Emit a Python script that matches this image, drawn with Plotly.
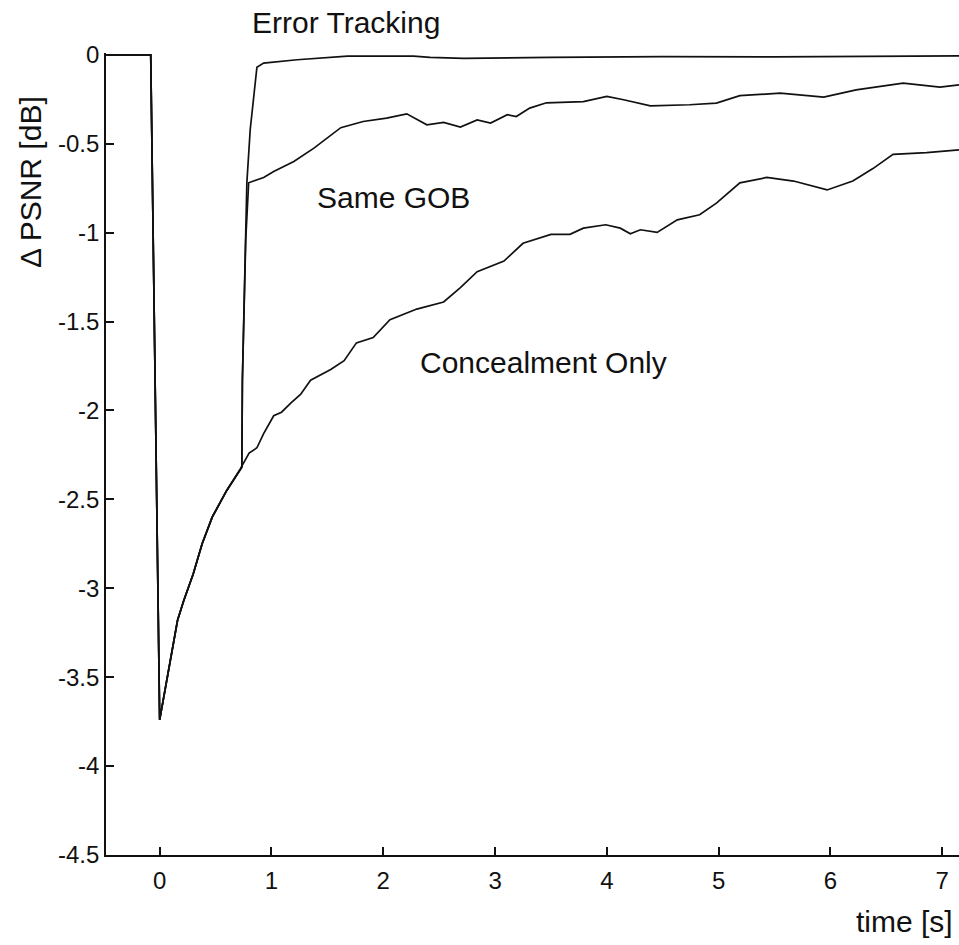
import plotly.graph_objects as go

# Shared start (all three curves coincide before the feedback arrives)
common_t = [-0.48, -0.08, 0.0, 0.08, 0.16, 0.215, 0.30, 0.38, 0.47, 0.60, 0.72]
common_v = [0.0, 0.0, -3.74, -3.46, -3.18, -3.07, -2.92, -2.75, -2.60, -2.45, -2.33]

conceal_t = [0.80, 0.87, 0.93, 1.02, 1.09, 1.17, 1.26, 1.35, 1.53, 1.65, 1.76, 1.91,
             2.06, 2.30, 2.54, 2.69, 2.84, 3.08, 3.25, 3.40, 3.50, 3.67, 3.79, 3.99,
             4.12, 4.21, 4.30, 4.45, 4.63, 4.83, 4.98, 5.19, 5.43, 5.67, 5.97, 6.20,
             6.38, 6.56, 6.86, 7.15]
conceal_v = [-2.24, -2.21, -2.13, -2.03, -2.01, -1.96, -1.91, -1.83, -1.77, -1.72, -1.62, -1.59,
             -1.49, -1.43, -1.39, -1.31, -1.22, -1.16, -1.06, -1.03, -1.01, -1.01, -0.975, -0.956,
             -0.975, -1.007, -0.984, -0.999, -0.928, -0.90, -0.834, -0.72, -0.69, -0.71, -0.76, -0.71,
             -0.64, -0.56, -0.55, -0.535]

track_t = [0.735, 0.74, 0.77, 0.78, 0.81, 0.87, 0.93, 1.23, 1.68, 1.97, 2.27, 2.42, 2.72,
           3.49, 4.5, 5.5, 6.5, 7.15]
track_v = [-2.32, -1.83, -1.04, -0.72, -0.42, -0.07, -0.047, -0.028, -0.008, -0.01, -0.008,
           -0.015, -0.02, -0.015, -0.01, -0.012, -0.01, -0.006]

gob_t = [0.735, 0.74, 0.77, 0.796, 0.93, 1.02, 1.20, 1.38, 1.62, 1.82, 2.03, 2.21, 2.39,
         2.54, 2.69, 2.84, 2.96, 3.11, 3.19, 3.31, 3.46, 3.79, 4.0, 4.15, 4.39, 4.74, 4.98,
         5.19, 5.55, 5.94, 6.23, 6.65, 6.98, 7.15]
gob_v = [-2.32, -1.83, -1.04, -0.72, -0.69, -0.656, -0.60, -0.525, -0.41, -0.375, -0.356,
         -0.332, -0.394, -0.38, -0.407, -0.366, -0.384, -0.337, -0.347, -0.30, -0.27, -0.263,
         -0.234, -0.253, -0.287, -0.281, -0.272, -0.23, -0.216, -0.238, -0.197, -0.159,
         -0.182, -0.169]

x_ticks = [0, 1, 2, 3, 4, 5, 6, 7]
x_ticktext = ["0", "1", "2", "3", "4", "5", "6", "7"]
y_ticks = [0, -0.5, -1, -1.5, -2, -2.5, -3, -3.5, -4, -4.5]
y_ticktext = ["0", "-0.5", "-1", "-1.5", "-2", "-2.5", "-3", "-3.5", "-4", "-4.5"]

FONT = "Liberation Sans, Arial, Helvetica, sans-serif"
line_style = dict(color="#111111", width=1.7)

fig = go.Figure()
fig.add_trace(go.Scatter(x=common_t + conceal_t, y=common_v + conceal_v, mode="lines",
                         line=line_style, name="Concealment Only"))
fig.add_trace(go.Scatter(x=common_t + gob_t, y=common_v + gob_v, mode="lines",
                         line=line_style, name="Same GOB"))
fig.add_trace(go.Scatter(x=common_t + track_t, y=common_v + track_v, mode="lines",
                         line=line_style, name="Error Tracking"))

ann_font = dict(family=FONT, size=30, color="#111111")
fig.add_annotation(x=0.1688, y=1.038, xref="paper", yref="paper", text="Error Tracking",
                   showarrow=False, xanchor="left", yanchor="middle", font=ann_font)
fig.add_annotation(x=1.392, y=-0.804, xref="x", yref="y", text="Same GOB",
                   showarrow=False, xanchor="left", yanchor="middle", font=ann_font)
fig.add_annotation(x=2.315, y=-1.732, xref="x", yref="y", text="Concealment Only",
                   showarrow=False, xanchor="left", yanchor="middle", font=ann_font)
fig.add_annotation(x=0.9953, y=-0.0829, xref="paper", yref="paper", text="time [s]",
                   showarrow=False, xanchor="right", yanchor="middle", font=ann_font)
fig.add_annotation(x=-0.0885, y=0.8385, xref="paper", yref="paper", text="Δ PSNR [dB]",
                   showarrow=False, xanchor="center", yanchor="middle", textangle=-90,
                   font=ann_font)

fig.update_layout(
    width=959, height=945,
    margin=dict(l=106, r=0, t=53, b=90),
    paper_bgcolor="white", plot_bgcolor="white",
    showlegend=False,
    font=dict(family=FONT, color="#111111"),
)
fig.update_xaxes(range=[-0.48, 7.15], tickvals=x_ticks, ticktext=x_ticktext,
                 ticks="inside", ticklen=8, tickwidth=1.5, tickcolor="#111111",
                 showline=True, linecolor="#111111", linewidth=1.8,
                 showgrid=False, zeroline=False,
                 tickfont=dict(family=FONT, size=24, color="#111111"),
                 ticklabelstandoff=3)
fig.update_yaxes(range=[-4.5, 0.01], tickvals=y_ticks, ticktext=y_ticktext,
                 ticks="inside", ticklen=8, tickwidth=1.5, tickcolor="#111111",
                 showline=True, linecolor="#111111", linewidth=1.8,
                 showgrid=False, zeroline=False,
                 tickfont=dict(family=FONT, size=24, color="#111111"),
                 ticklabelstandoff=0)

fig.write_html("out.html")
